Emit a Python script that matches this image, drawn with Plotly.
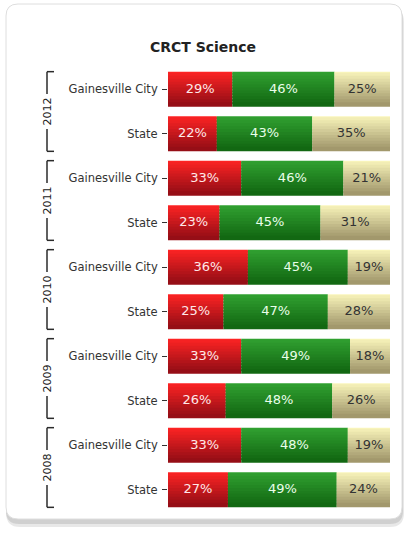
import plotly.graph_objects as go

# ---- data ----
years = ["2012", "2011", "2010", "2009", "2008"]
regions = ["Gainesville City", "State"]
does_not_meet = [29, 22, 33, 23, 36, 25, 33, 26, 33, 27]
meets = [46, 43, 46, 45, 45, 47, 49, 48, 48, 49]
exceeds = [25, 35, 21, 31, 19, 28, 18, 26, 19, 24]
title = "CRCT Science"

# ---- style ----
W, H = 406, 534
ML, MR, MT, MB = 168, 16, 67, 22
PW, PH = W - ML - MR, H - MT - MB
BAR_W = 0.79
N_BANDS = 12
FONT = "DejaVu Sans"

series = [
    ("Does Not Meet", does_not_meet, (255, 36, 36), (150, 14, 22), "#ffe8e8"),
    ("Meets", meets, (50, 162, 50), (18, 104, 18), "#eaffea"),
    ("Exceeds", exceeds, (250, 246, 188), (162, 152, 108), "#333333"),
]

ticktext = [r for _ in years for r in regions]
ypos = list(range(len(ticktext)))
totals = [a + b + c for a, b, c in zip(does_not_meet, meets, exceeds)]


def px2paper(px, py):
    return (px - ML) / PW, (MT + PH - py) / PH


def lerp(c0, c1, t):
    return "rgb(%d,%d,%d)" % tuple(round(a + (b - a) * t) for a, b in zip(c0, c1))


fig = go.Figure()
base = [0.0] * len(ypos)
tx, ty, tt, tc = [], [], [], []
bw = BAR_W / N_BANDS
ov = bw * 0.6
for name, vals, ctop, cbot, tcol in series:
    widths = [v / t * 100 for v, t in zip(vals, totals)]
    for k in range(N_BANDS):
        extra = ov if k > 0 else 0.0
        fig.add_trace(go.Bar(
            y=ypos, x=widths, base=base, orientation="h",
            width=bw + extra, offset=-BAR_W / 2 + k * bw - extra,
            marker=dict(color=lerp(ctop, cbot, k / (N_BANDS - 1)), line=dict(width=0)),
            name=name, showlegend=False, hoverinfo="skip",
        ))
    for i, (v, w) in enumerate(zip(vals, widths)):
        tx.append(base[i] + w / 2)
        ty.append(ypos[i])
        tt.append(f"{v}%")
        tc.append(tcol)
    base = [b + w for b, w in zip(base, widths)]

fig.add_trace(go.Scatter(
    x=tx, y=ty, text=tt, mode="text",
    textfont=dict(family=FONT, size=13, color=tc),
    showlegend=False, hoverinfo="skip",
))

shapes = []


def rounded(x0, y0, x1, y1, r):
    X0, Y0 = px2paper(x0, y0)
    X1, Y1 = px2paper(x1, y1)
    rx, ry = r / PW, r / PH
    return (f"M {X0+rx},{Y0} L {X1-rx},{Y0} Q {X1},{Y0} {X1},{Y0-ry} "
            f"L {X1},{Y1+ry} Q {X1},{Y1} {X1-rx},{Y1} L {X0+rx},{Y1} "
            f"Q {X0},{Y1} {X0},{Y1+ry} L {X0},{Y0-ry} Q {X0},{Y0} {X0+rx},{Y0} Z")


# card shadow + card
shapes.append(dict(type="path", xref="paper", yref="paper", layer="below",
                   path=rounded(6, 8, 404, 527, 14), fillcolor="rgba(0,0,0,0.09)",
                   line=dict(width=0)))
shapes.append(dict(type="path", xref="paper", yref="paper", layer="below",
                   path=rounded(6, 6, 403, 524, 13), fillcolor="rgba(0,0,0,0.10)",
                   line=dict(width=0)))
shapes.append(dict(type="path", xref="paper", yref="paper", layer="below",
                   path=rounded(6, 4, 402, 519, 12), fillcolor="white",
                   line=dict(color="#dedede", width=1)))

# group brackets
annotations = []
bx0, _ = px2paper(47, 0)
bx1, _ = px2paper(54, 0)
for g, yr in enumerate(years):
    top = ypos[2 * g] - BAR_W / 2
    bot = ypos[2 * g + 1] + BAR_W / 2
    line = dict(color="#2b2b2b", width=1.5)
    shapes.append(dict(type="line", xref="paper", yref="y", x0=bx0, x1=bx0, y0=top, y1=bot, line=line))
    shapes.append(dict(type="line", xref="paper", yref="y", x0=bx0, x1=bx1, y0=top, y1=top, line=line))
    shapes.append(dict(type="line", xref="paper", yref="y", x0=bx0, x1=bx1, y0=bot, y1=bot, line=line))
    annotations.append(dict(
        xref="paper", yref="y", x=bx0, y=(ypos[2 * g] + ypos[2 * g + 1]) / 2,
        text=yr, textangle=-90, showarrow=False, bgcolor="white", borderpad=3,
        font=dict(family=FONT, size=11, color="#222222"),
        xanchor="center", yanchor="middle",
    ))

fig.update_layout(
    width=W, height=H,
    margin=dict(l=ML, r=MR, t=MT, b=MB),
    paper_bgcolor="white", plot_bgcolor="rgba(0,0,0,0)",
    barmode="overlay",
    title=dict(text=f"<b>{title}</b>", x=0.5, xanchor="center", y=1 - 47 / H, yanchor="middle",
               font=dict(family=FONT, size=14, color="#222222")),
    xaxis=dict(range=[0, 100], visible=False, fixedrange=True),
    yaxis=dict(range=[len(ypos) - 0.5, -0.5], tickvals=ypos, ticktext=ticktext,
               ticks="outside", ticklen=5, tickwidth=1.2, tickcolor="#333333",
               showgrid=False, zeroline=False, showline=False, fixedrange=True,
               tickfont=dict(family=FONT, size=11.5, color="#333333"), ticklabelstandoff=2),
    shapes=shapes, annotations=annotations,
    showlegend=False,
)

fig.write_html(
    "out.html",
    config={"displayModeBar": False},
    post_script="document.body.style.margin='0';document.body.style.overflow='hidden';",
)
